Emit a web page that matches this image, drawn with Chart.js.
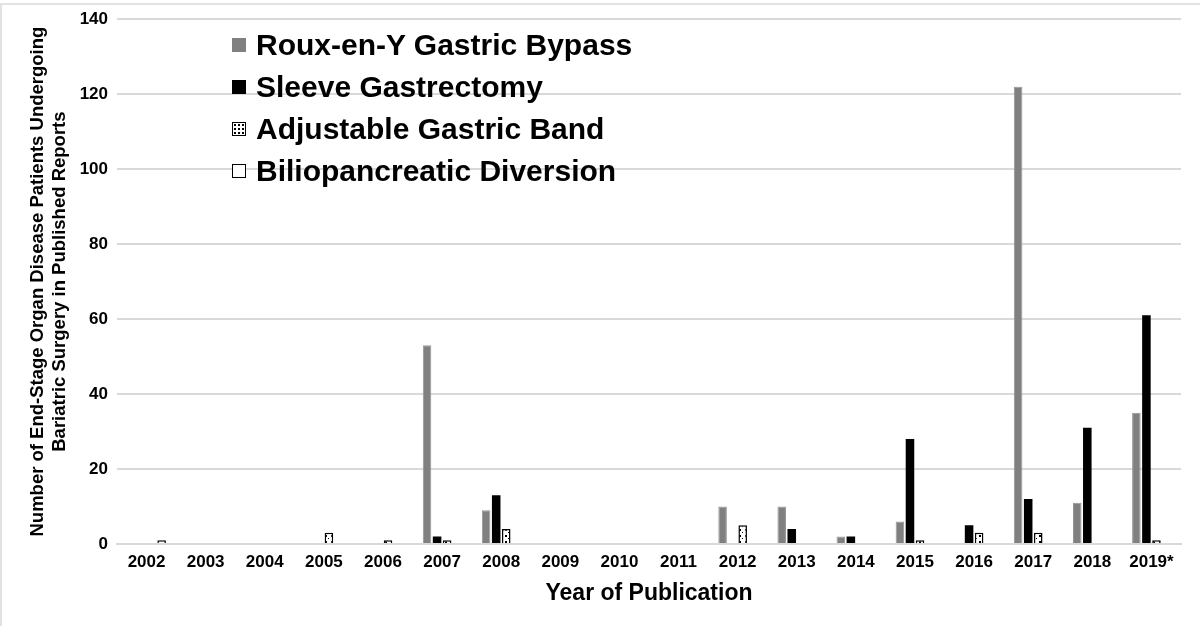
<!DOCTYPE html>
<html>
<head>
<meta charset="utf-8">
<script src="https://cdn.jsdelivr.net/npm/chart.js@4"></script>
<style>
    body { margin: 0; background: #fff; }
    #wrap { position: relative; width: 1200px; height: 626px; overflow: hidden; }
    #frame { position: absolute; left: 0; top: 3px; width: 1210px; height: 640px;
             border-top: 2px solid #e2e2e2; border-left: 2px solid #e2e2e2; }
    #legend { position: absolute; left: 232px; top: 24px;
              font-family: "Liberation Sans", Arial, sans-serif; font-weight: bold; font-size: 30px; }
    .legend-item { display: flex; align-items: center; height: 42px; }
    .legend-box { width: 14px; height: 14px; margin-right: 10px; box-sizing: border-box; }
</style>
</head>
<body>
<div id="wrap">
    <canvas id="bariatricChart"></canvas>
    <div id="frame"></div>
    <div id="legend"></div>
</div>
<script>
const years = ['2002', '2003', '2004', '2005', '2006', '2007', '2008', '2009', '2010',
    '2011', '2012', '2013', '2014', '2015', '2016', '2017', '2018', '2019*'];
const rouxEnY = [0, 0, 0, 0, 0, 53, 9, 0, 0, 0, 10, 10, 2, 6, 0, 122, 11, 35];
const sleeve = [0, 0, 0, 0, 0, 2, 13, 0, 0, 0, 0, 4, 2, 28, 5, 12, 31, 61];
const band = [0, 0, 0, 3, 1, 1, 4, 0, 0, 0, 5, 0, 0, 1, 3, 3, 0, 1];
const biliopancreatic = [1, 0, 0, 0, 0, 0, 0, 0, 0, 0, 0, 0, 0, 0, 0, 0, 0, 0];
const yTicks = [0, 20, 40, 60, 80, 100, 120, 140];

// white with black speckles, like the banding fill
function dottedPattern() {
    const c = document.createElement('canvas');
    c.width = 6; c.height = 6;
    const g = c.getContext('2d');
    g.fillStyle = '#fff';
    g.fillRect(0, 0, 6, 6);
    g.fillStyle = '#000';
    g.fillRect(1, 1, 2, 2);
    g.fillRect(4, 4, 1, 1);
    return g.createPattern(c, 'repeat');
}

const dots = dottedPattern();
const font = '"Liberation Sans", Arial, sans-serif';
const edge = ctx => (ctx.raw ? 1.5 : 0);

const datasets = [
    { label: 'Roux-en-Y Gastric Bypass', data: rouxEnY, backgroundColor: '#808080',
      borderColor: '#969696', borderWidth: ctx => (ctx.raw ? 1 : 0), legend: 'background:#808080' },
    { label: 'Sleeve Gastrectomy', data: sleeve, backgroundColor: '#000',
      borderColor: '#000', borderWidth: 0, legend: 'background:#000' },
    { label: 'Adjustable Gastric Band', data: band, backgroundColor: dots,
      borderColor: '#000', borderWidth: edge,
      legend: 'border:1.5px solid #000;background:radial-gradient(#000 30%, transparent 35%) 0 0/4px 4px, #fff' },
    { label: 'Biliopancreatic Diversion', data: biliopancreatic, backgroundColor: '#fff',
      borderColor: '#000', borderWidth: edge, legend: 'border:1.5px solid #000;background:#fff' }
];

document.getElementById('legend').innerHTML = datasets.map(d => `
    <div class="legend-item"><span class="legend-box" style="${d.legend}"></span>${d.label}</div>
`).join('');

const ctx = document.getElementById('bariatricChart').getContext('2d');
new Chart(ctx, {
    type: 'bar',
    data: {
        labels: years,
        datasets: datasets.map(d => ({
            label: d.label,
            data: d.data,
            backgroundColor: d.backgroundColor,
            borderColor: d.borderColor,
            borderWidth: d.borderWidth,
            borderSkipped: 'bottom',
            barPercentage: 0.85,
            categoryPercentage: 0.68
        }))
    },
    options: {
        responsive: true,
        maintainAspectRatio: false,
        animation: false,
        layout: { padding: { top: 19, right: 19, left: 0, bottom: 0 } },
        plugins: {
            legend: { display: false },
            tooltip: { enabled: false }
        },
        scales: {
            x: {
                grid: { display: false, drawTicks: false },
                border: { display: true, color: '#d9d9d9', width: 2 },
                ticks: { color: '#000', padding: 8, maxRotation: 0, autoSkip: false,
                         font: { family: font, size: 17, weight: 'bold' } },
                title: {
                    display: true,
                    text: 'Year of Publication',
                    color: '#000',
                    padding: { top: 4, bottom: 19 },
                    font: { family: font, size: 23, weight: 'bold' }
                },
                afterFit: scale => { scale.height = 82; }
            },
            y: {
                min: 0,
                max: 140,
                afterBuildTicks: scale => { scale.ticks = yTicks.map(v => ({ value: v })); },
                grid: { color: '#d9d9d9', lineWidth: 2, drawTicks: false },
                border: { display: false },
                ticks: { color: '#000', padding: 9,
                         font: { family: font, size: 17, weight: 'bold' } },
                title: {
                    display: true,
                    text: ['Number of End-Stage Organ Disease Patients Undergoing',
                           'Bariatric Surgery in Published Reports'],
                    color: '#000',
                    padding: { top: 27, bottom: 0 },
                    font: { family: font, size: 18.5, weight: 'bold', lineHeight: 1.2 }
                },
                afterFit: scale => { scale.width = 117; }
            }
        }
    }
});
</script>
</body>
</html>
